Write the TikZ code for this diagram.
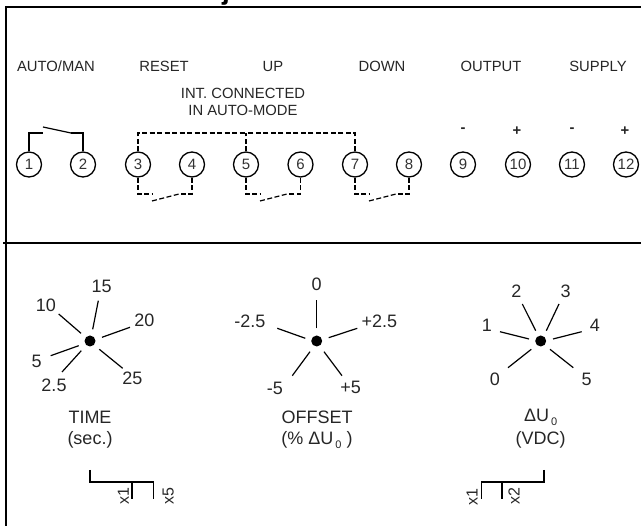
\documentclass[tikz,border=0pt]{standalone}
\usepackage{fontspec}
\setmainfont{Liberation Sans}
\newcommand{\subzero}{\hspace{2pt}\raisebox{-4pt}{\fontsize{11}{11}\selectfont 0}}
\begin{document}
\begin{tikzpicture}[x=1pt,y=-1pt,
  lab/.style={inner sep=0pt,font=\fontsize{14.8}{17}\selectfont,text=black!85},
  dial/.style={inner sep=0pt,font=\fontsize{18}{20}\selectfont,text=black!85},
  cap2/.style={inner sep=0pt,font=\fontsize{18}{22}\selectfont,text=black!85},
  rng/.style={inner sep=0pt,rotate=90,font=\fontsize{16}{18}\selectfont,text=black!85},
  term/.style={circle,draw,line width=1.3pt,minimum size=25pt,inner sep=0pt,font=\fontsize{15}{16}\selectfont,text=black!80},
  wire/.style={line width=1.2pt},
  dwire/.style={line width=1.2pt,dash pattern=on 5pt off 2.5pt},
  frame/.style={line width=2pt},
  hub/.style={circle,fill=black,minimum size=11pt,inner sep=0pt},
  tick/.style={line width=1.2pt},
  brk/.style={line width=1.6pt}]
\useasboundingbox (0,0) rectangle (641,526);
\begin{scope}
\clip (0,0) rectangle (641,7);
\node[inner sep=0pt,anchor=base west,font=\bfseries\fontsize{28}{30}\selectfont] (title) at (12,0) {Connections/adjustments};
\end{scope}
\coordinate (fa) at (6,7); \coordinate (fb) at (641,7); \coordinate (fc) at (6,526);
\draw[frame] (fc) -- (fa) -- (fb);
\coordinate (da) at (3,243); \coordinate (db) at (641,243);
\draw[frame,line width=1.6pt] (da) -- (db);
% labels
\node[lab] (l1) at (56,66) {AUTO/MAN};
\node[lab] (l2) at (164,66) {RESET};
\node[lab] (l3) at (273,66) {UP};
\node[lab] (l4) at (382,66) {DOWN};
\node[lab] (l5) at (491,66) {OUTPUT};
\node[lab] (l6) at (598,66) {SUPPLY};
\node[lab] (l7) at (243,93) {INT. CONNECTED};
\node[lab] (l7b) at (243,110) {IN AUTO-MODE};
\node[lab,font=\bfseries\fontsize{14.8}{17}\selectfont] (m9) at (463,130) {-};
\node[lab,font=\bfseries\fontsize{14.8}{17}\selectfont] (p10) at (517,131) {+};
\node[lab,font=\bfseries\fontsize{14.8}{17}\selectfont] (m11) at (572,130) {-};
\node[lab,font=\bfseries\fontsize{14.8}{17}\selectfont] (p12) at (625,131) {+};
% terminals
\foreach \n/\x in {1/29,2/83,3/138,4/192,5/246,6/300.5,7/355,8/409,9/463,10/518,11/572,12/626}
  \node[term] (t\n) at (\x,164.5) {\n};
% auto/man
\coordinate (s1) at (43,133); \coordinate (s2) at (71,133); \coordinate (s3) at (43,127);
\draw[wire] (t1.north) |- (s1);
\draw[wire] (t2.north) |- (s2);
\draw[wire] (s3) -- (s2);
% int connected
\coordinate (ic) at (246,133);
\draw[dwire] (t3.north) |- (ic);
\draw[dwire] (t7.north) |- (ic);
\draw[dwire] (t5.north) -- (ic);
% reset/up/down switches
\foreach \a/\b/\x in {3/4/138,5/6/246,7/8/355}{
  \coordinate (p\a) at (\x+14,194);
  \coordinate (q\a) at (\x+14,201);
  \coordinate (r\a) at (\x+41,194);
  \draw[dwire] (t\a.south) |- (p\a);
  \draw[dwire] (q\a) -- (r\a);
  \draw[dwire] (t\b.south) |- (r\a);
}
% TIME dial
\node[hub] (h1) at (90,341) {};
\draw[tick] (92.7,329.3) -- (98.3,300.7);
\draw[tick] (81,333.3) -- (58.7,314);
\draw[tick] (102,337.3) -- (130,327.3);
\draw[tick] (78.7,345.7) -- (50.7,355.7);
\draw[tick] (81.3,350.7) -- (62,372);
\draw[tick] (99.3,349.3) -- (122.7,368.3);
\node[dial] (a15) at (101.7,286) {15};
\node[dial] (a10) at (46,305.3) {10};
\node[dial] (a20) at (144.3,320.7) {20};
\node[dial] (a5) at (36.7,361.7) {5};
\node[dial] (a25b) at (54,385) {2.5};
\node[dial] (a25) at (132.3,378) {25};
\node[cap2] (c1) at (90,417.3) {TIME};
\node[cap2] (c1b) at (90,440) {(sec.)};
% OFFSET dial
\node[hub] (h2) at (316.7,341) {};
\draw[tick] (316.7,328.3) -- (316.7,300);
\draw[tick] (305.3,338.3) -- (277.3,328.3);
\draw[tick] (328.7,337.7) -- (357.3,328.3);
\draw[tick] (310,351.7) -- (292.3,375.7);
\draw[tick] (324,351.7) -- (342,375.7);
\node[dial] (b0) at (316.7,284) {0};
\node[dial] (bm25) at (250,321.7) {-2.5};
\node[dial] (bp25) at (379.3,321.7) {+2.5};
\node[dial] (bm5) at (275,388) {-5};
\node[dial] (bp5) at (350.7,387.7) {+5};
\node[cap2] (c2) at (317,417.3) {OFFSET};
\node[cap2] (c2b) at (317,440) {(\% ΔU\subzero\hspace{5pt})};
% dU dial
\node[hub] (h3) at (540.7,341) {};
\draw[tick] (535.7,330.7) -- (522.3,304);
\draw[tick] (546.3,330.7) -- (559,304);
\draw[tick] (529,339) -- (500,331.7);
\draw[tick] (553,339) -- (581.7,331.7);
\draw[tick] (531.3,349.3) -- (508,367.7);
\draw[tick] (550,349.3) -- (573.3,367.7);
\node[dial] (d2) at (516.3,291.7) {2};
\node[dial] (d3) at (565.7,291.7) {3};
\node[dial] (d1) at (487,325) {1};
\node[dial] (d4) at (595,325) {4};
\node[dial] (d0) at (495,379) {0};
\node[dial] (d5) at (586.7,379) {5};
\node[cap2] (c3) at (540.7,417.3) {ΔU\subzero};
\node[cap2] (c3b) at (540.7,439.5) {(VDC)};
% range brackets
\coordinate (ba) at (90,470); \coordinate (bb) at (90,482); \coordinate (bc) at (153.3,482); \coordinate (bd) at (153.3,499.3);
\coordinate (be) at (132,482); \coordinate (bf) at (132,499.3);
\draw[brk] (ba) -- (bb) -- (bc) -- (bd);
\draw[brk] (be) -- (bf);
\node[rng] (x1a) at (123.3,496) {x1};
\node[rng] (x5a) at (168.3,496) {x5};
\coordinate (ca) at (544,470); \coordinate (cb) at (544,482); \coordinate (cc) at (481.3,482); \coordinate (cd) at (481.3,499.3);
\coordinate (ce) at (502,482); \coordinate (cf) at (502,499.3);
\draw[brk] (ca) -- (cb) -- (cc) -- (cd);
\draw[brk] (ce) -- (cf);
\node[rng] (x1b) at (472,496.7) {x1};
\node[rng] (x2b) at (514,496) {x2};
\end{tikzpicture}
\end{document}
